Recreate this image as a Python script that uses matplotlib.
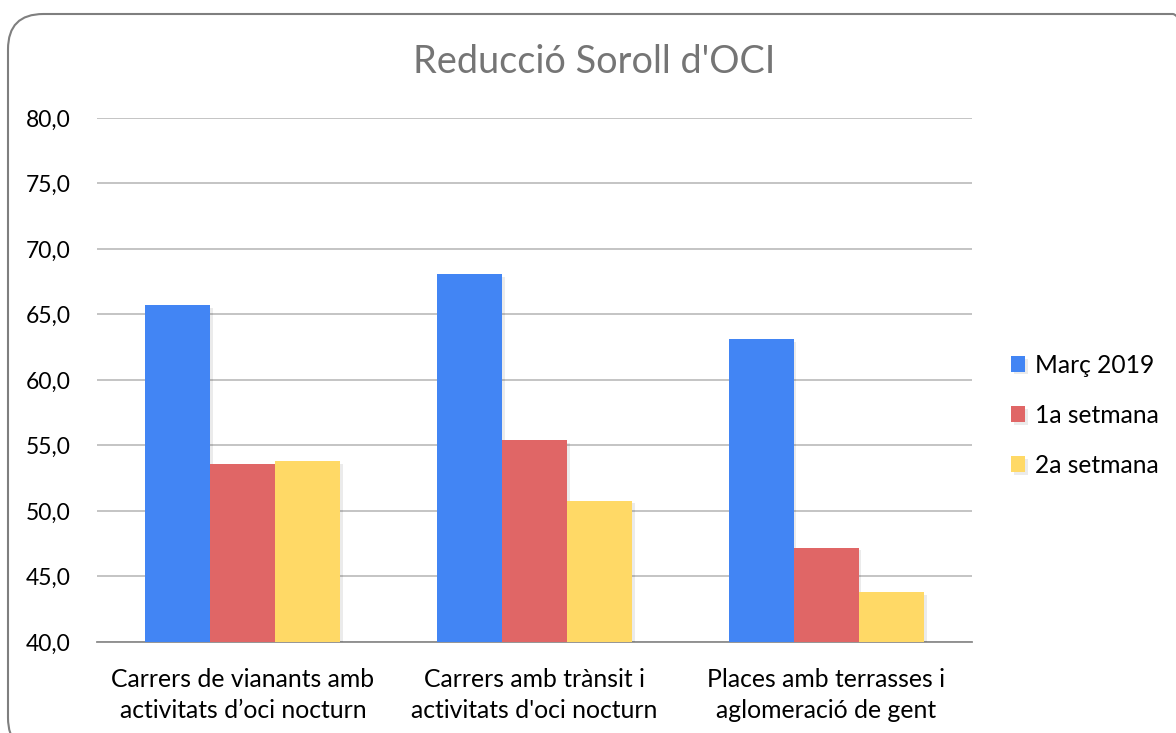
import matplotlib.pyplot as plt
import matplotlib.patheffects as pe
from matplotlib.patches import FancyBboxPatch
import numpy as np

plt.rcParams['font.family'] = ['Lato', 'DejaVu Sans']

categories = ["Carrers de vianants amb\nactivitats d\u2019oci nocturn",
              "Carrers amb tr\u00e0nsit i\nactivitats d'oci nocturn",
              "Places amb terrasses i\naglomeraci\u00f3 de gent"]
series_names = ["Mar\u00e7 2019", "1a setmana", "2a setmana"]
marc_2019 = [65.7, 68.1, 63.1]
setmana_1 = [53.6, 55.4, 47.2]
setmana_2 = [53.8, 50.8, 43.8]
colors = ['#4285f4', '#e06666', '#ffd966']

fig = plt.figure(figsize=(11.76, 7.33), dpi=100)

# rounded outer frame
frame = FancyBboxPatch((8 / 1176, -20 / 733), 1200 / 1176, 739 / 733,
                       boxstyle="round,pad=0,rounding_size=0.03",
                       transform=fig.transFigure, facecolor='none',
                       edgecolor='#7f7f7f', linewidth=1.5, zorder=-1,
                       mutation_aspect=1176 / 733)
fig.patches.append(frame)

ax = fig.add_axes([97 / 1176, 91 / 733, 875 / 1176, 524 / 733])
ax.set_facecolor('none')

x = np.arange(len(categories))
width = 0.223
shadow = [pe.SimplePatchShadow(offset=(2, -2), shadow_rgbFace='#000000', alpha=0.08), pe.Normal()]
for i, (vals, name) in enumerate(zip([marc_2019, setmana_1, setmana_2], series_names)):
    bars = ax.bar(x + (i - 1) * width, vals, width, color=colors[i], label=name, zorder=3)
    for b in bars:
        b.set_path_effects(shadow)

ax.set_ylim(40, 80)
ax.set_xlim(-0.5, 2.5)
ax.set_yticks(np.arange(40, 81, 5))
ax.set_yticklabels([f"{v:.1f}".replace('.', ',') for v in np.arange(40, 81, 5)], fontsize=16.5)
ax.set_xticks(x)
ax.set_xticklabels(categories, linespacing=1.4, fontsize=17.8)
ax.tick_params(axis='both', length=0, colors='#000000')
ax.tick_params(axis='y', pad=19)
ax.tick_params(axis='x', pad=19)
ax.grid(axis='y', color='#bfbfbf', linewidth=1.3, zorder=0)
for s in ['top', 'right', 'left']:
    ax.spines[s].set_visible(False)
ax.spines['bottom'].set_color('#8c8c8c')
ax.spines['bottom'].set_linewidth(1.3)

fig.text(0.505, 0.915, "Reducci\u00f3 Soroll d'OCI", ha='center', va='center',
         fontsize=27.3, color='#757575')

ax.legend(loc='center left', bbox_to_anchor=(1.019, 0.433), frameon=False,
          fontsize=17.7, handlelength=0.6, handleheight=0.6, handletextpad=0.4,
          labelspacing=1.1)

fig.savefig('out.png', dpi=100)
